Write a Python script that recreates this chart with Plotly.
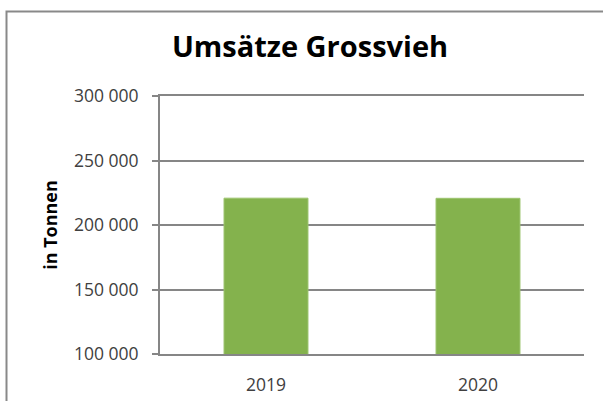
import plotly.graph_objects as go

years = ["2019", "2020"]
values = [220800, 220700]
y_ticks = [100000, 150000, 200000, 250000, 300000]

W, H = 603, 401
ml, mr, mt, mb = 160, 19, 96, 47
pw = W - ml - mr
ph = H - mt - mb

def px_to_paper_x(px):
    return (px - ml) / pw

def px_to_paper_y(py):
    return (H - mb - py) / ph

fig = go.Figure()
fig.add_trace(go.Bar(x=years, y=values,
                     marker=dict(color="#84B24D", line=dict(width=1, color="#9cc46e")),
                     width=0.396, hoverinfo="skip"))

fig.update_layout(
    width=W, height=H,
    margin=dict(l=ml, r=mr, t=mt, b=mb, autoexpand=False),
    paper_bgcolor="white", plot_bgcolor="white",
    separators=". ",
    showlegend=False,
    font=dict(family="Open Sans", color="#404040"),
    title=dict(text="<b>Umsätze Grossvieh</b>", x=310 / W, xanchor="center",
               y=1 - 47 / H, yanchor="middle",
               font=dict(size=29, color="#000000", family="Open Sans")),
)
fig.update_yaxes(range=[100000, 300000], tickvals=y_ticks, tickformat=",d",
                 automargin=False,
                 showgrid=True, gridcolor="#868686", gridwidth=2,
                 showline=True, linecolor="#868686", linewidth=2,
                 ticks="outside", ticklen=6, tickcolor="#868686", tickwidth=2,
                 ticklabelstandoff=10,
                 tickfont=dict(size=17.5, color="#404040"),
                 title=dict(text="<b>in Tonnen</b>", font=dict(size=18, color="#000000"), standoff=12),
                 zeroline=False)
fig.update_xaxes(showline=True, mirror=True, linecolor="#868686", linewidth=2, ticks="",
                 automargin=False,
                 ticklabelstandoff=14,
                 tickfont=dict(size=17.5, color="#404040"), showgrid=False)

fig.add_shape(type="rect", xref="paper", yref="paper",
              x0=px_to_paper_x(6.5), x1=px_to_paper_x(640),
              y0=px_to_paper_y(440), y1=px_to_paper_y(11.5),
              line=dict(color="#898989", width=2), fillcolor="rgba(0,0,0,0)", layer="below")

fig.write_html("out.html", config={"displayModeBar": False},
               post_script="document.body.style.margin='0px';document.body.style.overflow='hidden';")
